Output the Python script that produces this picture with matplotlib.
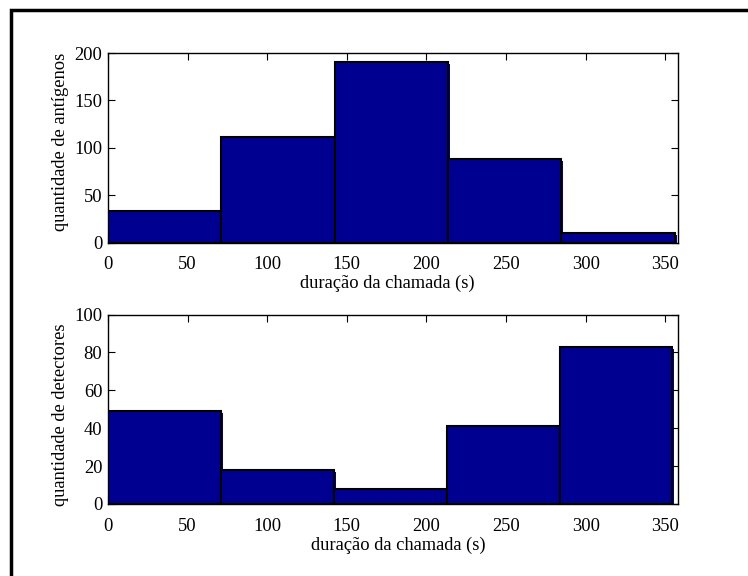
import matplotlib
matplotlib.use("Agg")
import matplotlib.pyplot as plt
import matplotlib.transforms as mtransforms
from matplotlib.patches import Rectangle

plt.rcParams['font.family'] = ['Liberation Serif', 'DejaVu Serif']

edges_top = [0, 71.2, 142.5, 213.7, 284.3, 356.2]
edges_bot = [0, 71.0, 142.0, 213.0, 283.8, 354.5]
antigenos = [33, 111, 190, 88, 10]
detectores = [49, 18, 8, 41, 83]
x_max = 358
xticks = [0, 50, 100, 150, 200, 250, 300, 350]
yticks_top = [0, 50, 100, 150, 200]
yticks_bot = [0, 20, 40, 60, 80, 100]
xlabel = "duração da chamada (s)"
ylabel_top = "quantidade de antígenos"
ylabel_bot = "quantidade de detectores"

W, H = 748, 576
fig = plt.figure(figsize=(W / 100, H / 100), dpi=100)

# figure frame (extends past right/bottom edges)
fig.patches.append(Rectangle((10.5 / W, -0.1), 1.2, 1 - 9.5 / H + 0.1,
                             transform=fig.transFigure, fill=False,
                             edgecolor='black', linewidth=2.5))

def ax_rect(l, t, r, b):
    return [l / W, 1 - b / H, (r - l) / W, (b - t) / H]

ax1 = fig.add_axes(ax_rect(108, 53, 678, 242.5))
ax2 = fig.add_axes(ax_rect(108, 314.5, 678, 504))

fill_col = '#000090'
fs = 13.3

specs = [(ax1, edges_top, antigenos, yticks_top, ylabel_top, 0.49, 0.53),
         (ax2, edges_bot, detectores, yticks_bot, ylabel_bot, 0.51, 0.47)]

for ax, edges, vals, yt, yl, xl_pos, yl_pos in specs:
    lefts = edges[:-1]
    widths = [edges[i + 1] - edges[i] for i in range(len(vals))]
    off = mtransforms.offset_copy(ax.transData, fig=fig, x=2, y=-2, units='dots')
    ax.bar(lefts, vals, width=widths, align='edge', color=fill_col,
           edgecolor='none', linewidth=0, transform=off, zorder=1)
    ax.bar(lefts, vals, width=widths, align='edge', color=fill_col,
           edgecolor='black', linewidth=1.5, zorder=2)
    ax.set_xlim(0, x_max)
    ax.set_ylim(yt[0], yt[-1])
    ax.set_xticks(xticks)
    ax.set_yticks(yt)
    ax.tick_params(axis='x', direction='in', top=True, length=5,
                   width=0.8, labelsize=fs, pad=10)
    ax.tick_params(axis='y', direction='in', right=True, length=5,
                   width=0.8, labelsize=fs, pad=4)
    ax.set_xlabel(xlabel, fontsize=fs, labelpad=1)
    ax.set_ylabel(yl, fontsize=fs, labelpad=4)
    ax.xaxis.label.set_x(xl_pos)
    ax.yaxis.label.set_y(yl_pos)
    for s in ax.spines.values():
        s.set_linewidth(1.0)
        s.set_zorder(3)

fig.savefig("out.png", dpi=100)
